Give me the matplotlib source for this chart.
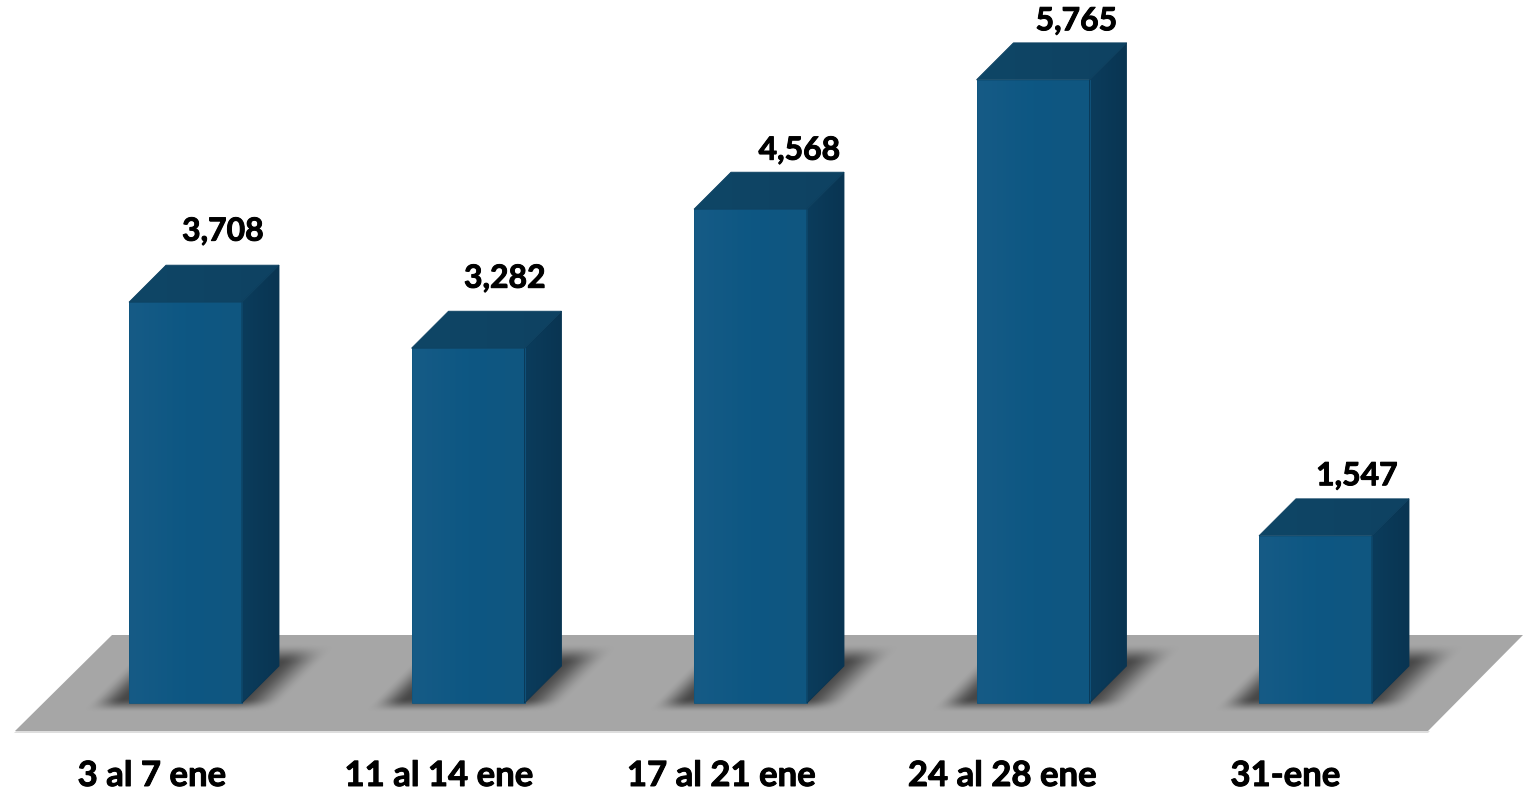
import numpy as np
from matplotlib import pyplot as plt
from matplotlib.colors import LinearSegmentedColormap
from matplotlib.patches import Polygon
import matplotlib.patheffects as pe

plt.rcParams['font.family'] = ['Lato', 'DejaVu Sans']

categories = ["3 al 7 ene", "11 al 14 ene", "17 al 21 ene", "24 al 28 ene", "31-ene"]
values = [3708, 3282, 4568, 5765, 1547]

# layout, all in pixels of the 1532x792 picture
W, H = 1532, 792
BASE_Y = 703
PX_PER_UNIT = 0.1081
FIRST_CENTER = 185.5
STEP = 282.5
BAR_W = 113
DEPTH = 37
# hand placed label offsets, the original has them off centre
value_dx = [37.5, 37, 49, 43.5, 41.5]
value_gap = [36, 35, 24, 24, 25]
label_dx = [-33.5, -29, -29, -30.5, -30]

fig = plt.figure(figsize=(W / 100, H / 100), dpi=100)
ax = fig.add_axes([0, 0, 1, 1])
ax.set_xlim(-FIRST_CENTER / STEP, (W - FIRST_CENTER) / STEP)
ax.set_ylim((BASE_Y - H) / PX_PER_UNIT, BASE_Y / PX_PER_UNIT)
ax.axis('off')
limits = [ax.get_xlim()[0], ax.get_xlim()[1], ax.get_ylim()[0], ax.get_ylim()[1]]


def xd(i, px):
    return i + px / STEP


def yd(v, px):
    # px counts upward on the picture
    return v + px / PX_PER_UNIT


def from_pixels(points):
    return [((x - FIRST_CENTER) / STEP, (BASE_Y - y) / PX_PER_UNIT) for x, y in points]


def smooth(t):
    t = np.clip(t, 0, 1)
    return t * t * (3 - 2 * t)


def gradient_face(points, colors, angle=0.0, zorder=4):
    poly = Polygon(points, closed=True, facecolor='none', edgecolor='none', zorder=zorder)
    ax.add_patch(poly)
    cmap = LinearSegmentedColormap.from_list("face", colors)
    n = 64
    yy, xx = np.mgrid[0:1:n * 1j, 0:1:n * 1j]
    grad = xx * np.cos(angle) + (1 - yy) * np.sin(angle)
    xs = [p[0] for p in points]
    ys = [p[1] for p in points]
    im = ax.imshow(grad, extent=[min(xs), max(xs), min(ys), max(ys)], origin='upper',
                   cmap=cmap, aspect='auto', zorder=zorder, interpolation='bilinear')
    im.set_clip_path(poly)
    # thin outline, same dark tone as the edges in the original
    ax.add_patch(Polygon(points, closed=True, fill=False, edgecolor=colors[-1], lw=0.6, zorder=zorder + 0.1))


# floor
ax.add_patch(Polygon(from_pixels([(14, 733), (1428, 733), (1430, 731), (16, 731)]),
                     closed=True, facecolor='#DEDEDE', edgecolor='none', zorder=1))
ax.add_patch(Polygon(from_pixels([(15, 731), (112, 635), (1523, 635), (1428, 731)]),
                     closed=True, facecolor='#A6A6A6', edgecolor='none', zorder=1.1))

# soft shadows behind the bars
py, px = np.mgrid[0:H, 0:W]
alpha = np.zeros((H, W))
for i in range(len(values)):
    left = FIRST_CENTER + STEP * i - BAR_W / 2
    rise = (BASE_Y - py).astype(float)
    sheared = px - rise
    m = smooth((sheared - (left - 42)) / 34) * smooth(((left + 152) - sheared) / 44)
    m = m * smooth((BASE_Y + 9 - py) / 14) * smooth((py - (BASE_Y - 60)) / 20)
    alpha = np.maximum(alpha, m)
shadow = np.zeros((H, W, 4))
shadow[..., :3] = 0.16
shadow[..., 3] = alpha * 0.75
ax.imshow(shadow, extent=limits, origin='upper', aspect='auto', zorder=2, interpolation='bilinear')
ax.set_xlim(limits[0], limits[1])
ax.set_ylim(limits[2], limits[3])

# bars
half = BAR_W / 2
heavy = [pe.withStroke(linewidth=0.7, foreground='black')]
for i, v in enumerate(values):
    fl, fr = xd(i, -half), xd(i, half)
    bl, br = xd(i, -half + DEPTH), xd(i, half + DEPTH)
    top_back = yd(v, DEPTH)
    low_back = yd(0, DEPTH)

    gradient_face([(fl, 0), (fr, 0), (fr, v), (fl, v)],
                  ['#165B86', '#0D5783', '#105680'], zorder=4)
    gradient_face([(fr, 0), (br, low_back), (br, top_back), (fr, v)],
                  ['#0B3C5C', '#093552'], zorder=4)
    gradient_face([(fl, v), (fr, v), (br, top_back), (bl, top_back)],
                  ['#0F4666', '#0E4262'], zorder=4)

    ax.text(xd(i, value_dx[i]), yd(v, value_gap[i] + DEPTH - 2), f"{v:,}",
            ha='center', va='center', fontsize=23, fontweight='bold', color='black', zorder=6,
            path_effects=heavy)
    ax.text(xd(i, label_dx[i]), yd(0, -73), categories[i],
            ha='center', va='center', fontsize=25, fontweight='bold', color='black', zorder=6,
            path_effects=heavy)

fig.savefig("out.png", dpi=100)
